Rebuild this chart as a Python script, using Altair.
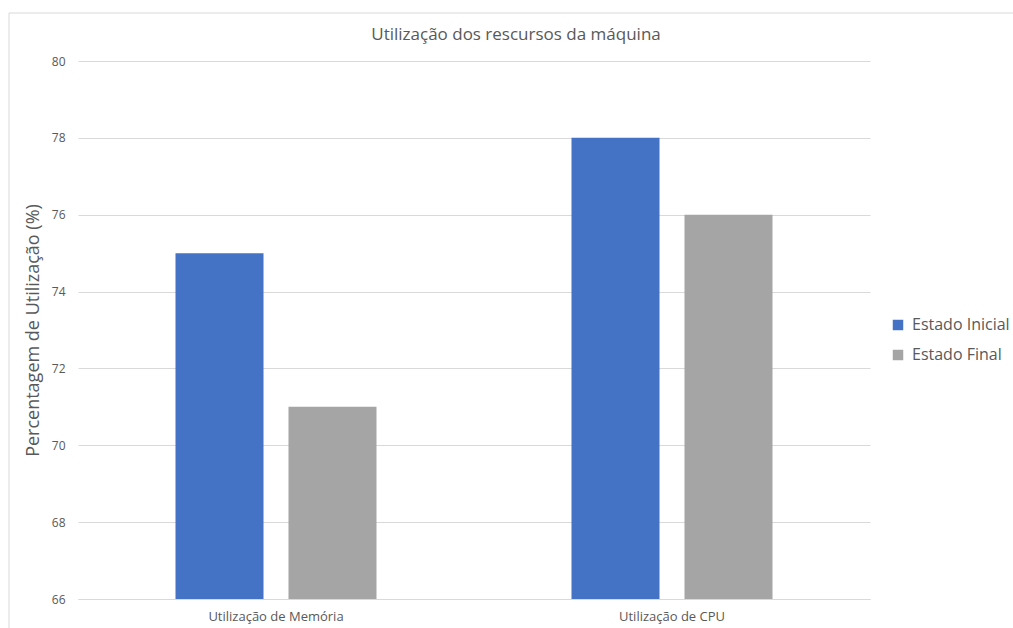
import altair as alt
import pandas as pd

titulo = "Utilização dos rescursos da máquina"
categorias = ["Utilização de Memória", "Utilização de CPU"]
series = ["Estado Inicial", "Estado Final"]
estado_inicial = [75, 78]
estado_final = [71, 76]

rows = []
for c, a, b in zip(categorias, estado_inicial, estado_final):
    rows.append({"categoria": c, "estado": series[0], "valor": a})
    rows.append({"categoria": c, "estado": series[1], "valor": b})
df = pd.DataFrame(rows)

FONT = "Open Sans"
GRAY = "#595959"

bars = alt.Chart(df).mark_bar().encode(
    x=alt.X("categoria:N", sort=categorias,
            scale=alt.Scale(paddingInner=0.4924, paddingOuter=0.2462),
            axis=alt.Axis(title=None, labelAngle=0, labelFontSize=13, labelColor=GRAY,
                          labelFont=FONT, ticks=False, domain=True, domainColor="#d9d9d9",
                          labelPadding=11, grid=False)),
    xOffset=alt.XOffset("estado:N", sort=series,
                        scale=alt.Scale(paddingInner=0.221, paddingOuter=0)),
    y=alt.Y("valor:Q",
            scale=alt.Scale(domain=[66, 80], zero=False, nice=False),
            axis=alt.Axis(title="Percentagem de Utilização (%)", values=[66, 68, 70, 72, 74, 76, 78, 80],
                          titleFontSize=18, titleFont=FONT, titleColor=GRAY, titleFontWeight="normal",
                          labelFontSize=12, labelFont=FONT, labelColor=GRAY, labelPadding=13,
                          ticks=False, domain=False, gridColor="#d9d9d9", titlePadding=9)),
    y2=alt.Y2(datum=66),
    color=alt.Color("estado:N", sort=series,
                    scale=alt.Scale(domain=series, range=["#4472C4", "#A5A5A5"]),
                    legend=alt.Legend(title=None, orient="none", legendX=812, legendY=256,
                                      symbolType="square", symbolSize=110, labelFontSize=16,
                                      labelFont=FONT, labelColor=GRAY, rowPadding=14,
                                      symbolStrokeWidth=0, labelOffset=6)),
)

frame = alt.Chart(pd.DataFrame({"a": [0]})).mark_rect(fillOpacity=0, fill="white", stroke="#d9d9d9", strokeWidth=1).encode(
    x=alt.value(-69), x2=alt.value(960), y=alt.value(-48), y2=alt.value(700)
)

title_mark = alt.Chart(pd.DataFrame({"t": [titulo]})).mark_text(
    font=FONT, fontSize=17, color=GRAY, align="center", baseline="middle"
).encode(text="t:N", x=alt.value(438), y=alt.value(-26))

chart = alt.layer(frame, bars, title_mark).properties(
    width=792, height=538,
    view=alt.ViewBackground(stroke="transparent", strokeWidth=0),
    autosize=alt.AutoSizeParams(type="none"),
    padding={"left": 78, "top": 61, "right": 143, "bottom": 29},
).configure_view(strokeWidth=0, stroke="transparent").configure(background="white")

chart.save("out.html", embed_options={"renderer": "svg", "actions": False})
